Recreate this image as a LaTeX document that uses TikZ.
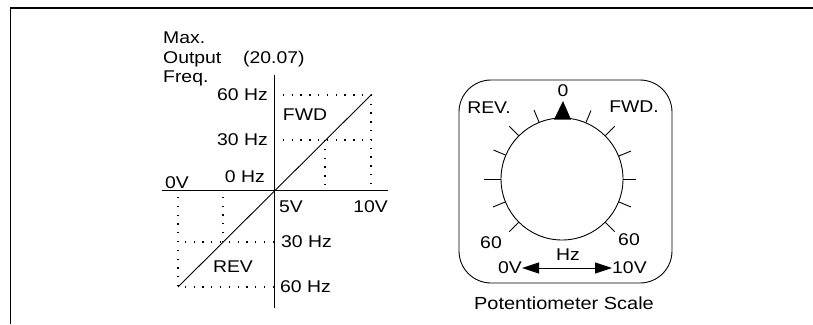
\documentclass[tikz,border=0pt]{standalone}
\usepackage{fontspec}
\setmainfont[FakeStretch=1.14]{Liberation Sans}
\usetikzlibrary{arrows.meta}
\begin{document}
\begin{tikzpicture}[x=1pt,y=-1pt,
  lbl/.style={inner sep=0pt,font=\fontsize{17}{20}\selectfont},
  biglbl/.style={inner sep=0pt,font=\fontsize{17.5}{20}\selectfont},
  axis/.style={line width=0.9pt},
  guide/.style={line width=1.3pt,dash pattern=on 1.3pt off 7.5pt},
  tickline/.style={line width=0.9pt},
  frameline/.style={line width=1.4pt}]
\useasboundingbox (0,0) rectangle (813,324);
% frame
\coordinate (fa) at (10.5,324);
\coordinate (fb) at (10.5,8);
\coordinate (fc) at (813,8);
\draw[frameline] (fa) -- (fb) -- (fc);
% graph axes
\coordinate (hl) at (162,190);
\coordinate (hr) at (388,190);
\coordinate (vt) at (274,75);
\coordinate (vb) at (274,308);
\draw[axis] (hl) -- (hr);
\draw[axis] (vt) -- (vb);
% guides
\coordinate (o) at (274,190);
\coordinate (p60) at (274,95);
\coordinate (p30) at (274,140);
\coordinate (q60) at (371,95);
\coordinate (q30) at (371,140);
\coordinate (r60) at (371,190);
\coordinate (s30) at (325,140);
\coordinate (t30) at (325,190);
\coordinate (m30) at (274,242);
\coordinate (m60) at (274,287);
\coordinate (n30) at (178,242);
\coordinate (n60) at (178,287);
\coordinate (n0) at (178,190);
\coordinate (k30) at (223,242);
\coordinate (k0) at (223,190);
\draw[guide] (p60) -- (q60) -- (r60);
\draw[guide] (p30) -- (q30);
\draw[guide] (s30) -- (t30);
\draw[guide] (m30) -- (n30);
\draw[guide] (m60) -- (n60) -- (n0);
\draw[guide] (k30) -- (k0);
\draw[axis] (n60) -- (q60);
% graph labels
\node[lbl,anchor=base west] (max) at (163,43) {Max.};
\node[lbl,anchor=base west] (out) at (163,63) {Output};
\node[lbl,anchor=base west] (par) at (243,63) {(20.07)};
\node[lbl,anchor=base west] (frq) at (163,82) {Freq.};
\node[lbl,anchor=east] (h60) at (268,95) {60 Hz};
\node[lbl,anchor=east] (h30) at (268,140) {30 Hz};
\node[lbl,anchor=east] (h0) at (265,177) {0 Hz};
\node[lbl,anchor=west] (v0) at (165,183) {0V};
\node[lbl] (fwd) at (305,115) {FWD};
\node[lbl,anchor=west] (v5) at (279,207) {5V};
\node[lbl,anchor=east] (v10) at (388,207) {10V};
\node[lbl,anchor=west] (l30) at (281,242) {30 Hz};
\node[lbl,anchor=west] (l60) at (280,287) {60 Hz};
\node[lbl] (rev) at (233,267) {REV};
% potentiometer
\draw[axis,rounded corners=32pt] (459,80) rectangle (672,283);
\coordinate (c) at (562,179);
\node[draw,axis,circle,minimum size=122pt,inner sep=0pt] (dial) at (c) {};
\foreach \a/\l in {-45/13,-22.5/13,0/13,22.5/13,45/13,67.5/13,112.5/13,135/13,157.5/13,180/17,202.5/13,225/13}{
  \draw[tickline] (dial.\a) -- ([shift={(canvas polar cs:angle=\a,radius=\l pt)}]dial.\a);
}
\coordinate (ptip) at (563,101);
\coordinate (pl) at (554,119.5);
\coordinate (pr) at (571,119.5);
\fill (ptip) -- (pl) -- (pr) -- cycle;
\node[lbl] (zero) at (563,91) {0};
\node[lbl] (prev) at (489,108) {REV.};
\node[lbl] (pfwd) at (634,107) {FWD.};
\node[lbl] (s60l) at (491,243) {60};
\node[lbl] (s60r) at (629,240) {60};
\node[lbl] (hz) at (568,255) {Hz};
\node[lbl,anchor=east] (s0v) at (522,268) {0V};
\node[lbl,anchor=west] (s10v) at (612,268) {10V};
\draw[axis,{Triangle[length=17pt,width=11pt]}-{Triangle[length=17pt,width=11pt]}] (s0v.east) -- (s10v.west);
\node[biglbl] (title) at (564,303) {Potentiometer Scale};
\end{tikzpicture}
\end{document}
